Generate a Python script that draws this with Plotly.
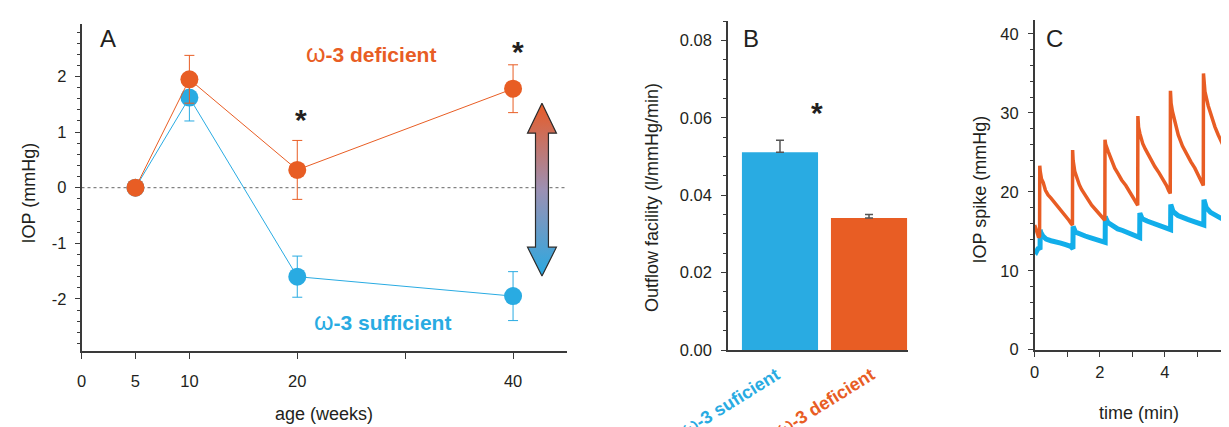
import plotly.graph_objects as go

W, H = 1229, 427
ORANGE = "#E85D24"
BLUE = "#29ABE2"
TRACE_BLUE = "#12AEEA"
INK = "#231F20"
AXIS = "#3A3A3A"
FONT = "Liberation Sans, Arial, sans-serif"
TICK_SIZE = 16.5

# ---------------- data: panel A ----------------
ages = [5, 10, 20, 40]
iop_deficient = [0.0, 1.95, 0.32, 1.78]
iop_deficient_err = [0.0, 0.43, 0.53, 0.43]
iop_sufficient = [0.0, 1.62, -1.60, -1.95]
iop_sufficient_err = [0.0, 0.42, 0.37, 0.44]
age_tickvals = [0, 5, 10, 20, 30, 40]
age_ticktext = ["0", "5", "10", "20", "", "40"]
iop_tickvals = [-2, -1, 0, 1, 2]
iop_ticktext = ["-2", "-1", "0", "1", "2"]

# ---------------- data: panel B ----------------
groups = ["ω-3 suficient", "ω-3 deficient"]
outflow = [0.0511, 0.0341]
outflow_err = [0.0031, 0.0009]
outflow_tickvals = [0, 0.02, 0.04, 0.06, 0.08]
outflow_ticktext = ["0.00", "0.02", "0.04", "0.06", "0.08"]

# ---------------- data: panel C ----------------
time_deficient = [0.00, 0.04, 0.08, 0.12, 0.15, 0.155,
                  0.17, 0.21, 0.26, 0.33, 0.41, 0.50, 0.62, 0.72, 0.82, 0.90, 0.97, 1.05, 1.13, 1.16, 1.165,
                  1.18, 1.23, 1.30, 1.37, 1.44, 1.54, 1.64, 1.75, 1.90, 2.00, 2.13, 2.155, 2.16,
                  2.18, 2.26, 2.35, 2.46, 2.56, 2.67, 2.80, 2.92, 3.03, 3.13, 3.165, 3.17,
                  3.19, 3.23, 3.32, 3.40, 3.49, 3.59, 3.69, 3.82, 3.95, 4.05, 4.12, 4.165, 4.17,
                  4.19, 4.23, 4.32, 4.41, 4.54, 4.67, 4.80, 4.92, 5.03, 5.13, 5.18, 5.185,
                  5.20, 5.23, 5.33, 5.44, 5.54, 5.64, 5.75, 5.85, 5.96, 6.07, 6.20]
iop_deficient_trace = [15.8, 15.2, 14.6, 14.2, 14.4, 23.3,
                       22.6, 21.6, 21.2, 20.2, 19.6, 19.2, 18.6, 18.1, 17.6, 17.2, 16.9, 16.4, 15.9, 15.8, 25.3,
                       24.0, 22.6, 21.6, 20.9, 20.3, 19.6, 18.9, 18.3, 17.6, 17.1, 16.5, 16.4, 26.6,
                       26.0, 25.1, 24.0, 23.0, 22.3, 21.5, 20.8, 20.0, 19.2, 18.5, 18.3, 29.6,
                       28.2, 27.4, 26.1, 25.4, 24.7, 24.0, 23.2, 22.4, 21.6, 20.8, 20.1, 19.8, 32.8,
                       31.2, 30.2, 28.6, 27.2, 25.8, 24.7, 23.8, 23.0, 22.1, 21.2, 20.8, 35.0,
                       33.6, 32.7, 30.9, 29.3, 28.2, 27.2, 26.2, 25.3, 24.3, 23.4, 22.6]
time_sufficient = [0.00, 0.05, 0.10, 0.165, 0.17,
                   0.18, 0.25, 0.35, 0.50, 0.65, 0.80, 0.95, 1.10, 1.175, 1.18,
                   1.25, 1.40, 1.55, 1.70, 1.85, 2.00, 2.165, 2.17,
                   2.18, 2.25, 2.40, 2.55, 2.70, 2.85, 3.00, 3.15, 3.225, 3.23,
                   3.30, 3.45, 3.60, 3.75, 3.90, 4.05, 4.175, 4.18,
                   4.25, 4.40, 4.55, 4.70, 4.85, 5.00, 5.195, 5.20,
                   5.27, 5.40, 5.55, 5.70, 5.85, 6.00, 6.20]
iop_sufficient_trace = [12.6, 12.4, 12.8, 12.9, 15.2,
                        14.9, 14.4, 14.0, 13.8, 13.7, 13.5, 13.3, 13.1, 12.8, 15.6,
                        14.9, 14.6, 14.4, 14.2, 14.0, 13.8, 13.6, 16.9,
                        16.7, 16.1, 15.6, 15.3, 15.1, 14.8, 14.6, 14.3, 14.2, 17.3,
                        16.6, 16.3, 16.1, 15.9, 15.7, 15.5, 15.2, 18.4,
                        17.5, 17.0, 16.7, 16.5, 16.3, 16.1, 15.8, 19.0,
                        18.0, 17.4, 17.0, 16.7, 16.4, 16.2, 16.0]


def fx(px):
    return px / W


def fy(py):
    return 1 - py / H


fig = go.Figure()

# ---------- Panel A ----------
# double arrow (gradient) placed in data coordinates of panel A
AR_X, AR_TOP, AR_BOT = 42.68, 1.52, -1.59
AR_HEAD_TOP, AR_HEAD_BOT = 0.98, -1.07
AR_HW, AR_SW = 1.34, 0.60
arrow_x = [AR_X, AR_X + AR_HW, AR_X + AR_SW, AR_X + AR_SW, AR_X + AR_HW, AR_X,
           AR_X - AR_HW, AR_X - AR_SW, AR_X - AR_SW, AR_X - AR_HW, AR_X]
arrow_y = [AR_TOP, AR_HEAD_TOP, AR_HEAD_TOP, AR_HEAD_BOT, AR_HEAD_BOT, AR_BOT,
           AR_HEAD_BOT, AR_HEAD_BOT, AR_HEAD_TOP, AR_HEAD_TOP, AR_TOP]
fig.add_trace(go.Scatter(
    x=arrow_x, y=arrow_y, mode="lines", fill="toself",
    fillgradient=dict(type="vertical", start=AR_BOT, stop=AR_TOP,
                      colorscale=[[0, "#2AA9E1"], [0.5, "#9C90B3"], [1, "#E85B26"]]),
    line=dict(color="#2B2B2B", width=1.2), hoverinfo="skip",
    xaxis="x", yaxis="y", showlegend=False))

fig.add_trace(go.Scatter(
    x=ages, y=iop_sufficient, mode="lines+markers",
    line=dict(color=BLUE, width=1),
    marker=dict(color=BLUE, size=18),
    error_y=dict(type="data", array=iop_sufficient_err, color=BLUE, thickness=1, width=5),
    xaxis="x", yaxis="y", showlegend=False))
fig.add_trace(go.Scatter(
    x=ages, y=iop_deficient, mode="lines+markers",
    line=dict(color=ORANGE, width=1),
    marker=dict(color=ORANGE, size=18),
    error_y=dict(type="data", array=iop_deficient_err, color=ORANGE, thickness=1, width=5),
    xaxis="x", yaxis="y", showlegend=False))

# ---------- Panel B ----------
fig.add_trace(go.Bar(
    x=[0, 1], y=outflow, width=0.855,
    marker=dict(color=[BLUE, ORANGE], line=dict(width=0)),
    error_y=dict(type="data", array=outflow_err, arrayminus=[0, 0],
                 color="#555555", thickness=1.5, width=4),
    xaxis="x2", yaxis="y2", showlegend=False))

# ---------- Panel C ----------
fig.add_trace(go.Scatter(
    x=time_sufficient, y=iop_sufficient_trace, mode="lines",
    line=dict(color=TRACE_BLUE, width=5),
    xaxis="x3", yaxis="y3", showlegend=False))
fig.add_trace(go.Scatter(
    x=time_deficient, y=iop_deficient_trace, mode="lines",
    line=dict(color=ORANGE, width=3.5),
    xaxis="x3", yaxis="y3", showlegend=False))

axis_common = dict(showline=True, linecolor=AXIS, linewidth=1.5, showgrid=False,
                   zeroline=False, ticks="outside", tickcolor=AXIS, tickwidth=1.2,
                   tickfont=dict(family=FONT, size=TICK_SIZE, color=INK),
                   automargin=False, fixedrange=True)

fig.update_layout(
    width=W, height=H,
    margin=dict(l=0, r=0, t=0, b=0),
    paper_bgcolor="white", plot_bgcolor="white",
    font=dict(family=FONT, color=INK),
    showlegend=False,
    xaxis=dict(axis_common, domain=[fx(73.5), fx(559)], range=[0, 45],
               tickmode="array", tickvals=age_tickvals, ticktext=age_ticktext,
               ticklen=6, ticklabelstandoff=8, anchor="y"),
    yaxis=dict(axis_common, domain=[fy(343), fy(16)], range=[-2.937, 2.944],
               tickmode="array", tickvals=iop_tickvals, ticktext=iop_ticktext,
               ticklen=5, ticklabelstandoff=5, anchor="x",
               minor=dict(dtick=0.2, tick0=0, ticklen=3, ticks="outside",
                          tickcolor=AXIS, tickwidth=1.2)),
    xaxis2=dict(axis_common, domain=[fx(720), fx(900)], range=[-0.584, 1.438],
                tickmode="array", tickvals=[0, 1], showticklabels=False,
                ticks="", anchor="y2"),
    yaxis2=dict(axis_common, domain=[fy(342), fy(13)], range=[0, 0.085],
                tickmode="array", tickvals=outflow_tickvals, ticktext=outflow_ticktext,
                ticklen=5, ticklabelstandoff=6, anchor="x2",
                minor=dict(dtick=0.005, tick0=0, ticklen=3, ticks="outside",
                           tickcolor=AXIS, tickwidth=1.2)),
    xaxis3=dict(axis_common, domain=[fx(1026.7), 1.0], range=[0, 6.215],
                dtick=2, tick0=0, ticklen=6, ticklabelstandoff=1, anchor="y3",
                minor=dict(dtick=1, tick0=0, ticklen=6, ticks="outside",
                           tickcolor=AXIS, tickwidth=1.2)),
    yaxis3=dict(axis_common, domain=[fy(341.7), fy(11.7)], range=[0, 41.8],
                dtick=10, tick0=0, ticklen=5, ticklabelstandoff=6, anchor="x3",
                minor=dict(dtick=2, tick0=0, ticklen=3, ticks="outside",
                           tickcolor=AXIS, tickwidth=1.2)),
)

# zero reference line in panel A
fig.add_shape(type="line", xref="x", yref="y", x0=0, x1=45, y0=0, y1=0,
              line=dict(color="#666666", width=1, dash="dot"), layer="below")


def ann(px, py, text, size, color=INK, angle=0, xanchor="center", bold=False):
    fig.add_annotation(x=fx(px), y=fy(py), xref="paper", yref="paper",
                       text=f"<b>{text}</b>" if bold else text, showarrow=False,
                       textangle=angle, xanchor=xanchor, yanchor="middle",
                       font=dict(family=FONT, size=size, color=color))


# panel letters
ann(99.7, 30.5, "A", 24)
ann(743, 30.5, "B", 24)
ann(1046.7, 30.5, "C", 24)

# axis titles
ann(20.5, 185, "IOP (mmHg)", 18, angle=-90)
ann(316, 406, "age (weeks)", 18)
ann(644, 190, "Outflow facility (l/mmHg/min)", 18, angle=-90)
ann(971.7, 181.7, "IOP spike (mmHg)", 18, angle=-90)
ann(1130.8, 405, "time (min)", 18)

# series labels in panel A
OMEGA = '<span style="font-weight:normal;font-size:25px">ω</span>'
ann(296, 45, OMEGA + "<b>-3 deficient</b>", 21, color=ORANGE, xanchor="left")
ann(304, 313, OMEGA + "<b>-3 sufficient</b>", 21, color=BLUE, xanchor="left")

# rotated category labels under panel B bars
OMEGA_B = '<span style="font-weight:normal;font-size:21px">ω</span>'
ann(721, 393, OMEGA_B + "<b>" + groups[0][1:] + "</b>", 18, color=BLUE, angle=-32)
ann(816, 393, OMEGA_B + "<b>" + groups[1][1:] + "</b>", 18, color=ORANGE, angle=-32)

# significance stars
ann(293, 111, "*", 30, bold=True)
ann(509.6, 43, "*", 30, bold=True)
ann(809, 104.5, "*", 30, bold=True)

fig.write_html("out.html")
